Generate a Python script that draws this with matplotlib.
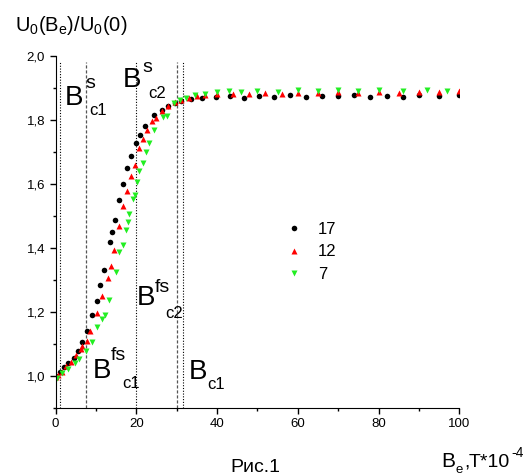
import matplotlib
matplotlib.use("Agg")
import matplotlib.pyplot as plt
from matplotlib.ticker import MultipleLocator, FuncFormatter

plt.rcParams['font.family'] = ['Liberation Sans', 'DejaVu Sans']
plt.rcParams['mathtext.fontset'] = 'custom'
plt.rcParams['mathtext.rm'] = 'Liberation Sans'
plt.rcParams['mathtext.it'] = 'Liberation Sans'

# series 17 (black circles)
x17 = [0, 1.2, 2.1, 3.2, 4.6, 5.6, 6.6, 7.8, 9.1, 10.3, 11.1, 12.0, 13.5, 14.1,
       14.8, 15.8, 16.8, 17.8, 18.7, 19.9, 20.9, 22.2, 24.4, 26.3, 27.9, 29.5,
       31.0, 33.5, 36.4, 39.7, 43.2, 46.7, 50.4, 54, 58, 62, 66, 70, 74, 78,
       82, 86, 90, 95, 100]
y17 = [1.0, 1.013, 1.027, 1.04, 1.056, 1.078, 1.105, 1.142, 1.19, 1.235, 1.285,
       1.331, 1.418, 1.451, 1.489, 1.551, 1.601, 1.649, 1.687, 1.727, 1.752,
       1.782, 1.816, 1.831, 1.843, 1.853, 1.86, 1.866, 1.868, 1.872, 1.874,
       1.870, 1.876, 1.872, 1.878, 1.871, 1.876, 1.874, 1.879, 1.872, 1.876,
       1.873, 1.878, 1.874, 1.877]

# series 12 (red up-triangles)
x12 = [0.2, 0.7, 1.7, 2.7, 3.8, 5.2, 6.2, 6.6, 7.7, 8.5, 10.35, 11.5, 12.9,
       13.65, 14.5, 15.8, 16.8, 17.8, 18.8, 19.7, 20.7, 21.7, 22.7, 23.8, 24.8,
       26.3, 27.9, 29.5, 31.0, 33, 35, 37, 40, 44, 48, 52, 56, 60, 65, 70, 75,
       80, 85, 90, 95, 100]
y12 = [0.997, 1.003, 1.012, 1.03, 1.043, 1.066, 1.084, 1.095, 1.11, 1.142,
       1.197, 1.249, 1.306, 1.345, 1.394, 1.47, 1.532, 1.579, 1.624, 1.66,
       1.712, 1.741, 1.77, 1.798, 1.805, 1.829, 1.845, 1.857, 1.864, 1.870,
       1.875, 1.877, 1.880, 1.882, 1.880, 1.884, 1.882, 1.885, 1.883, 1.886,
       1.884, 1.887, 1.885, 1.888, 1.886, 1.89]

# series 7 (green down-triangles)
x7 = [0.3, 1.5, 3.2, 4.8, 5.9, 7.5, 8.95, 10.4, 11.4, 12.25, 13.2, 15.1, 15.7,
      16.6, 17.45, 17.9, 18.3, 19.3, 19.7, 20.3, 20.7, 21.7, 22.5, 23.2, 24.4,
      26.5, 27.5, 29.3, 30.8, 32.4, 34.5, 37, 40, 43, 46, 50, 55, 60, 65, 70,
      75, 80, 86, 92, 97]
y7 = [0.995, 1.009, 1.022, 1.04, 1.053, 1.079, 1.105, 1.152, 1.178, 1.19,
      1.238, 1.326, 1.389, 1.41, 1.456, 1.48, 1.506, 1.553, 1.566, 1.605,
      1.642, 1.666, 1.701, 1.727, 1.769, 1.81, 1.813, 1.852, 1.862, 1.870,
      1.878, 1.882, 1.887, 1.890, 1.888, 1.892, 1.889, 1.893, 1.890, 1.894,
      1.891, 1.893, 1.890, 1.894, 1.892]

dotted_x = [1.0, 20.0, 31.5]
dashed_x = [7.5, 30.2]

W, H = 531, 475
fig = plt.figure(figsize=(W / 100, H / 100), dpi=100)
ax = fig.add_axes([55.5 / W, 1 - 408 / H, (459.3 - 55.5) / W, (408 - 56) / H])

ax.vlines(dotted_x, 0.9, 1.98, colors='black', linestyles=(0, (1, 1.5)), lw=0.8)
ax.vlines(dashed_x, 0.9, 1.98, colors='#555555', linestyles=(0, (2.5, 1.5)), lw=0.9)

ax.plot(x17, y17, 'o', color='black', ms=4, mec='none', label='17')
ax.plot(x12, y12, '^', color='red', ms=5, mec='none', label='12')
ax.plot(x7, y7, 'v', color='#22ee22', ms=5, mec='none', label='7')

ax.set_xlim(0, 100)
ax.set_ylim(0.9, 2.0)
ax.spines['top'].set_visible(False)
ax.spines['right'].set_visible(False)
ax.xaxis.set_major_locator(MultipleLocator(20))
ax.xaxis.set_minor_locator(MultipleLocator(10))
ax.yaxis.set_major_locator(MultipleLocator(0.2))
ax.yaxis.set_minor_locator(MultipleLocator(0.1))
ax.yaxis.set_major_formatter(FuncFormatter(lambda v, p: ('%.1f' % v).replace('.', ',')))
ax.tick_params(which='major', direction='out', length=4, width=1, labelsize=9.5)
ax.tick_params(which='minor', direction='out', length=2.5, width=1)

leg = ax.legend(loc='upper left', bbox_to_anchor=(286 / W, 1 - 222 / H),
                bbox_transform=fig.transFigure, frameon=False, fontsize=12,
                handletextpad=0.9, labelspacing=0.45, handlelength=1.0,
                borderaxespad=0, borderpad=0)


def put(xp, yp, s, size):
    fig.text(xp / W, 1 - yp / H, s, fontsize=size, ha='left', va='baseline')


# B labels: B position, superscript, subscript
labels = [
    (65, 105, 's', 85, 88, 'c1', 89, 115),
    (123, 87, 's', 142, 72, 'c2', 148, 98),
    (137, 305, 'fs', 155, 292, 'c2', 165, 318),
    (93, 378, 'fs', 111, 360, 'c1', 122, 388),
    (189, 379, '', 0, 0, 'c1', 207, 389),
]
for bx, by, sup, sx, sy, sub, cx, cy in labels:
    put(bx, by, 'B', 20)
    if sup:
        put(sx, sy, sup, 14)
    put(cx, cy, sub, 12)

put(15, 31, r'$\mathregular{U_0(B_e)/U_0(0)}$', 14.5)
put(441, 467, 'B', 15)
put(456, 473, 'e', 9.5)
put(464, 467, ',', 14)
put(469, 467, 'T*10', 14)
put(511, 457, '-4', 10)
put(230, 472, 'Рис.1', 14)

fig.savefig('out.png', dpi=100)
